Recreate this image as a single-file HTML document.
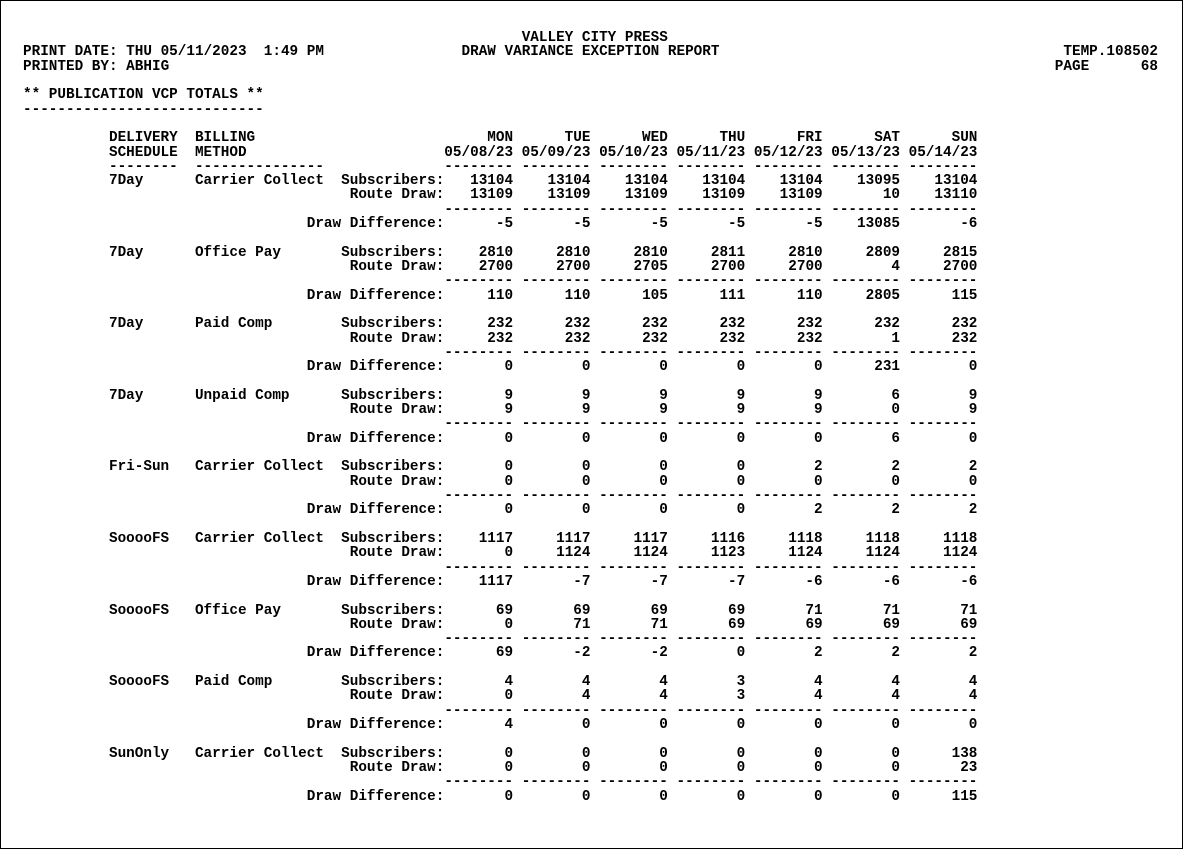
<!DOCTYPE html>
<html><head><meta charset="utf-8"><style>
html,body{margin:0;padding:0;background:#fff}
#page{position:relative;width:1181px;height:847px;border:1px solid #000;overflow:hidden;background:#fff}
#r{position:absolute;left:22px;top:30px;font-family:"Liberation Mono",monospace;font-weight:bold;font-size:14.333px;line-height:14.32px;color:#000}
#r div{white-space:pre;height:14.32px}
</style></head><body><div id="page"><div id="r">
<div style="padding-left:58ch">VALLEY CITY PRESS</div>
<div>PRINT DATE: THU 05/11/2023  1:49 PM                DRAW VARIANCE EXCEPTION REPORT                                        TEMP.108502</div>
<div>PRINTED BY: ABHIG                                                                                                       PAGE      68</div>
<div></div>
<div>** PUBLICATION VCP TOTALS **</div>
<div>----------------------------</div>
<div></div>
<div style="padding-left:10ch">DELIVERY  BILLING                           MON      TUE      WED      THU      FRI      SAT      SUN</div>
<div style="padding-left:10ch">SCHEDULE  METHOD                       05/08/23 05/09/23 05/10/23 05/11/23 05/12/23 05/13/23 05/14/23</div>
<div style="padding-left:10ch">--------  ---------------              -------- -------- -------- -------- -------- -------- --------</div>
<div style="padding-left:10ch">7Day      Carrier Collect  Subscribers:   13104    13104    13104    13104    13104    13095    13104</div>
<div style="padding-left:38ch">Route Draw:   13109    13109    13109    13109    13109       10    13110</div>
<div style="padding-left:49ch">-------- -------- -------- -------- -------- -------- --------</div>
<div style="padding-left:33ch">Draw Difference:      -5       -5       -5       -5       -5    13085       -6</div>
<div></div>
<div style="padding-left:10ch">7Day      Office Pay       Subscribers:    2810     2810     2810     2811     2810     2809     2815</div>
<div style="padding-left:38ch">Route Draw:    2700     2700     2705     2700     2700        4     2700</div>
<div style="padding-left:49ch">-------- -------- -------- -------- -------- -------- --------</div>
<div style="padding-left:33ch">Draw Difference:     110      110      105      111      110     2805      115</div>
<div></div>
<div style="padding-left:10ch">7Day      Paid Comp        Subscribers:     232      232      232      232      232      232      232</div>
<div style="padding-left:38ch">Route Draw:     232      232      232      232      232        1      232</div>
<div style="padding-left:49ch">-------- -------- -------- -------- -------- -------- --------</div>
<div style="padding-left:33ch">Draw Difference:       0        0        0        0        0      231        0</div>
<div></div>
<div style="padding-left:10ch">7Day      Unpaid Comp      Subscribers:       9        9        9        9        9        6        9</div>
<div style="padding-left:38ch">Route Draw:       9        9        9        9        9        0        9</div>
<div style="padding-left:49ch">-------- -------- -------- -------- -------- -------- --------</div>
<div style="padding-left:33ch">Draw Difference:       0        0        0        0        0        6        0</div>
<div></div>
<div style="padding-left:10ch">Fri-Sun   Carrier Collect  Subscribers:       0        0        0        0        2        2        2</div>
<div style="padding-left:38ch">Route Draw:       0        0        0        0        0        0        0</div>
<div style="padding-left:49ch">-------- -------- -------- -------- -------- -------- --------</div>
<div style="padding-left:33ch">Draw Difference:       0        0        0        0        2        2        2</div>
<div></div>
<div style="padding-left:10ch">SooooFS   Carrier Collect  Subscribers:    1117     1117     1117     1116     1118     1118     1118</div>
<div style="padding-left:38ch">Route Draw:       0     1124     1124     1123     1124     1124     1124</div>
<div style="padding-left:49ch">-------- -------- -------- -------- -------- -------- --------</div>
<div style="padding-left:33ch">Draw Difference:    1117       -7       -7       -7       -6       -6       -6</div>
<div></div>
<div style="padding-left:10ch">SooooFS   Office Pay       Subscribers:      69       69       69       69       71       71       71</div>
<div style="padding-left:38ch">Route Draw:       0       71       71       69       69       69       69</div>
<div style="padding-left:49ch">-------- -------- -------- -------- -------- -------- --------</div>
<div style="padding-left:33ch">Draw Difference:      69       -2       -2        0        2        2        2</div>
<div></div>
<div style="padding-left:10ch">SooooFS   Paid Comp        Subscribers:       4        4        4        3        4        4        4</div>
<div style="padding-left:38ch">Route Draw:       0        4        4        3        4        4        4</div>
<div style="padding-left:49ch">-------- -------- -------- -------- -------- -------- --------</div>
<div style="padding-left:33ch">Draw Difference:       4        0        0        0        0        0        0</div>
<div></div>
<div style="padding-left:10ch">SunOnly   Carrier Collect  Subscribers:       0        0        0        0        0        0      138</div>
<div style="padding-left:38ch">Route Draw:       0        0        0        0        0        0       23</div>
<div style="padding-left:49ch">-------- -------- -------- -------- -------- -------- --------</div>
<div style="padding-left:33ch">Draw Difference:       0        0        0        0        0        0      115</div>
</div></div></body></html>
